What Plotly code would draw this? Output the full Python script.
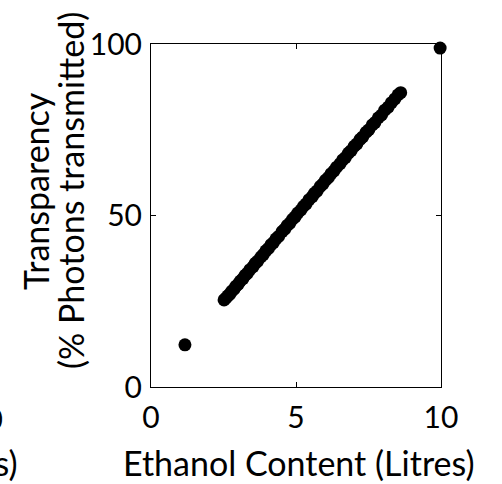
import plotly.graph_objects as go

# Data
ethanol = [1.17, 2.52, 2.58, 2.65, 2.71, 2.78, 2.86, 2.93, 3.01, 3.08, 3.17, 3.25, 3.33, 3.41,
           3.52, 3.60, 3.68, 3.79, 3.87, 3.96, 4.05, 4.14, 4.22, 4.31, 4.40, 4.52, 4.61,
           4.70, 4.79, 4.88, 4.97, 5.06, 5.17, 5.26, 5.35, 5.45, 5.56, 5.64, 5.73, 5.84,
           5.93, 6.02, 6.12, 6.21, 6.31, 6.40, 6.52, 6.61, 6.70, 6.81, 6.90, 7.01, 7.10,
           7.21, 7.30, 7.42, 7.51, 7.63, 7.72, 7.84, 7.95, 8.06, 8.18, 8.29, 8.41, 8.52,
           8.61, 9.97]
transparency = [12.3, 25.4, 25.9, 26.6, 27.0, 27.9, 28.5, 29.4, 30.0, 30.9, 31.6, 32.6, 33.2, 34.2,
                35.1, 36.1, 36.7, 37.9, 38.6, 39.7, 40.4, 41.5, 42.1, 43.2, 43.9, 45.3, 46.0,
                47.1, 47.8, 48.9, 49.6, 50.7, 51.6, 52.7, 53.4, 54.6, 55.5, 56.5, 57.2, 58.5,
                59.2, 60.3, 61.1, 62.2, 63.0, 64.1, 65.1, 66.2, 66.9, 68.2, 68.9, 70.2, 70.9,
                72.2, 72.9, 74.3, 75.0, 76.4, 77.1, 78.5, 79.3, 80.7, 81.6, 82.9, 84.0, 85.2,
                85.8, 98.8]

x_ticks = [0, 5, 10]
y_ticks = [0, 50, 100]
x_title = "Ethanol Content (Litres)"
y_title_lines = ["Transparency", "(% Photons transmitted)"]

FONT = "Lato"
FS = 34        # titles
FS_TICK = 30   # tick labels

W, H = 502, 484
L, R, T, B = 151, 61, 44, 97
PW, PH = W - L - R, H - T - B


def px_x(p):
    return (p - L) / PW


def px_y(p):
    return (H - B - p) / PH


fig = go.Figure()
fig.add_trace(go.Scatter(
    x=ethanol, y=transparency, mode="markers",
    marker=dict(color="black", size=13, line=dict(width=0)),
    showlegend=False, cliponaxis=False,
))

axis_common = dict(
    showline=True, linecolor="black", linewidth=1, mirror="ticks",
    ticks="inside", ticklen=5, tickcolor="black", tickwidth=1,
    showgrid=False, zeroline=False,
    tickfont=dict(family=FONT, size=FS_TICK, color="black"),
)

fig.update_xaxes(range=[0, 10], tickvals=x_ticks, ticktext=[str(v) for v in x_ticks],
                 ticklabelstandoff=4, **axis_common)
fig.update_yaxes(range=[0, 100], tickvals=y_ticks, ticktext=[str(v) for v in y_ticks],
                 ticklabelstandoff=2, **axis_common)

annotations = [
    dict(text=x_title, xref="paper", yref="paper", x=px_x(299), y=px_y(462),
         xanchor="center", yanchor="middle", showarrow=False,
         font=dict(family=FONT, size=FS, color="black")),
    dict(text=y_title_lines[0], xref="paper", yref="paper", x=px_x(35), y=px_y(191),
         xanchor="center", yanchor="middle", textangle=-90, showarrow=False,
         font=dict(family=FONT, size=FS, color="black")),
    dict(text=y_title_lines[1], xref="paper", yref="paper", x=px_x(70), y=px_y(191),
         xanchor="center", yanchor="middle", textangle=-90, showarrow=False,
         font=dict(family=FONT, size=FS, color="black")),
    # fragments of the neighbouring panel, cut off at the left edge
    dict(text="10", xref="paper", yref="paper", x=px_x(5), y=px_y(418),
         xanchor="right", yanchor="middle", showarrow=False,
         font=dict(family=FONT, size=FS_TICK, color="black")),
    dict(text=x_title, xref="paper", yref="paper", x=px_x(20), y=px_y(462),
         xanchor="right", yanchor="middle", showarrow=False,
         font=dict(family=FONT, size=FS, color="black")),
]

fig.update_layout(
    width=W, height=H,
    margin=dict(l=L, r=R, t=T, b=B, pad=0),
    paper_bgcolor="white", plot_bgcolor="white",
    annotations=annotations,
    showlegend=False,
)

fig.write_html("out.html")
